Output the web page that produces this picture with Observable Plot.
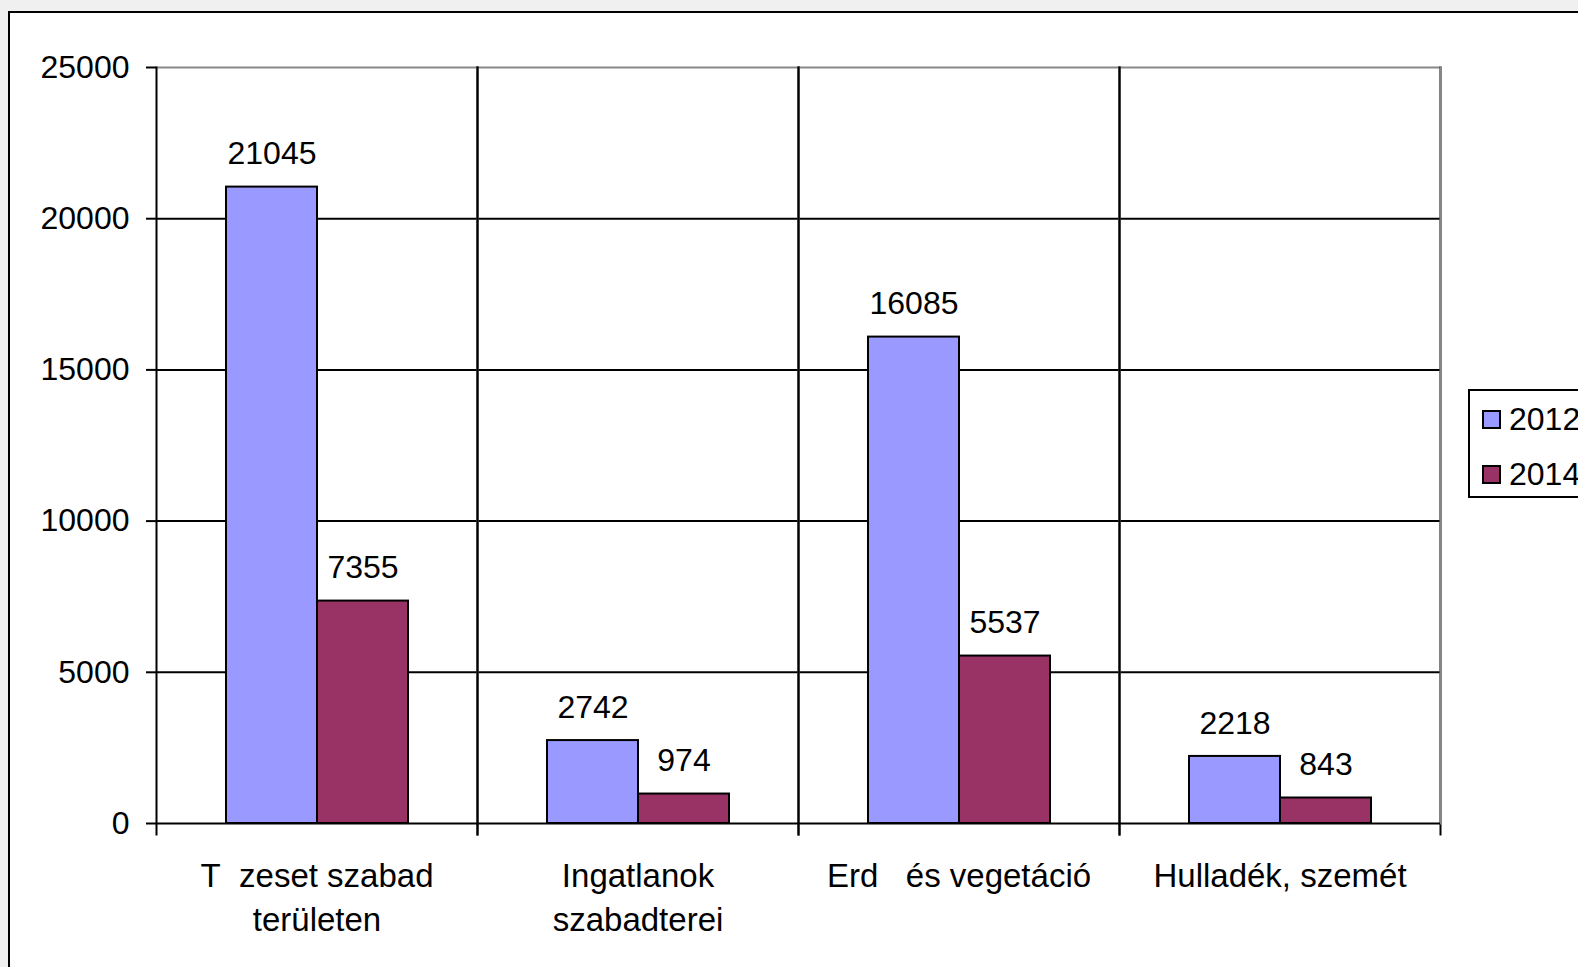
<!DOCTYPE html>
<html><head><meta charset="utf-8">
<script src="https://cdn.jsdelivr.net/npm/d3@7"></script>
<script src="https://cdn.jsdelivr.net/npm/@observablehq/plot@0.6"></script>
<style>
html,body{margin:0;padding:0;overflow:hidden;background:#f0f0f0;width:1578px;height:967px;}
#box{position:absolute;left:8px;top:11px;width:1700px;height:1100px;background:#fff;border:2px solid #000;box-sizing:border-box;}
#chart{position:absolute;left:0;top:0;}
#legend{position:absolute;left:1468px;top:389px;width:200px;height:109px;border:2px solid #000;box-sizing:border-box;background:#fff;font-family:"Liberation Sans",Arial,sans-serif;font-size:32px;color:#000;}
.item{position:absolute;left:0;height:34px;line-height:34px;white-space:nowrap;}
.sw{position:absolute;left:12px;top:8px;width:19px;height:19px;border:2px solid #000;box-sizing:border-box;}
.lab{position:absolute;left:39px;top:0;}
</style></head>
<body>
<div id="box"></div>
<div id="chart"></div>
<div id="legend"></div>
<script>
const categories = ["T\u00a0\u00a0zeset szabad\nterületen", "Ingatlanok\nszabadterei", "Erd\u00a0\u00a0\u00a0és vegetáció", "Hulladék, szemét"];
const years = ["2012", "2014"];
const values2012 = [21045, 2742, 16085, 2218];
const values2014 = [7355, 974, 5537, 843];
const yTicks = [0, 5000, 10000, 15000, 20000, 25000];
const colors = ["#9999ff", "#993366"];

const data = categories.flatMap((c, i) => [
  {category: c, year: years[0], value: values2012[i]},
  {category: c, year: years[1], value: values2014[i]}
]);

const chart = Plot.plot({
  width: 1578, height: 967,
  marginLeft: 155, marginRight: 137, marginTop: 67, marginBottom: 144,
  style: {background: "none", fontFamily: "'Liberation Sans', Arial, sans-serif", color: "#000"},
  fx: {domain: categories, padding: 0, label: null},
  x: {domain: years, paddingInner: 0, paddingOuter: 0.75, axis: null},
  y: {domain: [0, 25000], label: null},
  color: {domain: years, range: colors},
  marks: [
    Plot.ruleY(yTicks.slice(1, -1), {stroke: "#000", strokeWidth: 2}),
    Plot.barY(data, {fx: "category", x: "year", y: "value", fill: "year", stroke: "#000", strokeWidth: 2}),
    Plot.text(data, {fx: "category", x: "year", y: "value", text: d => String(d.value), dy: -33, fontSize: 32, fill: "#000"}),
    Plot.ruleY([25000], {stroke: "#888", strokeWidth: 2}),
    Plot.frame({anchor: "right", stroke: "#000", strokeWidth: 2, insetBottom: -11}),
    Plot.frame({anchor: "right", stroke: "#888", strokeWidth: 2}),
    Plot.frame({anchor: "left", stroke: "#000", strokeWidth: 2, insetBottom: -11}),
    Plot.ruleY([0], {stroke: "#000", strokeWidth: 2}),
    Plot.axisY({ticks: yTicks, tickFormat: d => String(d), tickSize: 10, tickPadding: 17, fontSize: 32, label: null, stroke: "#000", strokeWidth: 2}),
    Plot.axisFx({anchor: "bottom", tickSize: 0, tickPadding: 32, fontSize: 33, lineHeight: 1.33, label: null})
  ]
});
document.getElementById("chart").appendChild(chart);

const legend = document.getElementById("legend");
years.forEach((y, i) => {
  const item = document.createElement("div");
  item.className = "item";
  item.style.top = (i === 0 ? 11 : 66) + "px";
  item.innerHTML = `<div class="sw" style="background:${colors[i]}"></div><div class="lab">${y}</div>`;
  legend.appendChild(item);
});
</script>
</body></html>
